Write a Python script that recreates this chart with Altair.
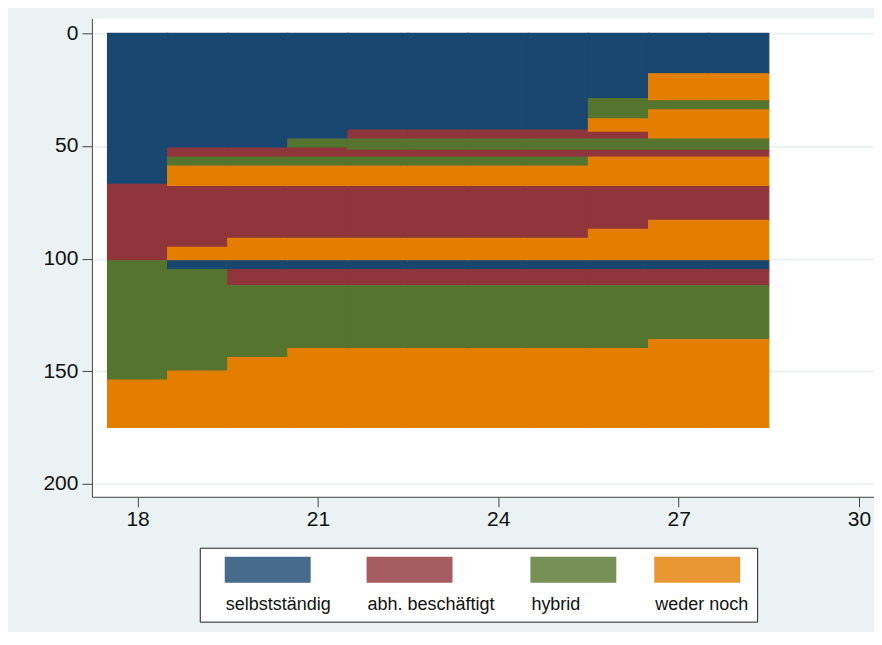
import altair as alt
import pandas as pd

# ---- data -------------------------------------------------------------
ages = [18, 19, 20, 21, 22, 23, 24, 25, 26, 27, 28]
state_codes = ["S", "A", "H", "W"]
state_labels = ["selbstständig", "abh. beschäftigt", "hybrid", "weder noch"]
state_colors = ["#1a476f", "#90353b", "#55752f", "#e37e00"]

# state runs per age, read top (sequence 0) to bottom
col_states = {
    18: "SAHW",
    19: "SAHWAWSHW",
    20: "SAHWAWSAHW",
    21: "SHAHWAWSAHW",
    22: "SAHAHWAWSAHW",
    23: "SAHAHWAWSAHW",
    24: "SAHAHWAWSAHW",
    25: "SAHAHWAWSAHW",
    26: "SHWAHAWAWSAHW",
    27: "SWHWHAWAWSAHW",
    28: "SWHWHAWAWSAHW",
}
# sequence index where each run starts / ends
col_bounds = {
    18: [0, 67, 101, 154, 175],
    19: [0, 51, 55, 59, 68, 95, 101, 105, 150, 175],
    20: [0, 51, 55, 59, 68, 91, 101, 105, 112, 144, 175],
    21: [0, 47, 51, 55, 59, 68, 91, 101, 105, 112, 140, 175],
    22: [0, 43, 47, 52, 55, 59, 68, 91, 101, 105, 112, 140, 175],
    23: [0, 43, 47, 52, 55, 59, 68, 91, 101, 105, 112, 140, 175],
    24: [0, 43, 47, 52, 55, 59, 68, 91, 101, 105, 112, 140, 175],
    25: [0, 43, 47, 52, 55, 59, 68, 91, 101, 105, 112, 140, 175],
    26: [0, 29, 38, 44, 47, 52, 55, 68, 87, 101, 105, 112, 140, 175],
    27: [0, 18, 30, 34, 47, 52, 55, 68, 83, 101, 105, 112, 136, 175],
    28: [0, 18, 30, 34, 47, 52, 55, 68, 83, 101, 105, 112, 136, 175],
}
x_ticks = [18, 21, 24, 27, 30]
y_ticks = [0, 50, 100, 150, 200]

# ---- table ------------------------------------------------------------
code_to_label = dict(zip(state_codes, state_labels))
rows = []
for a in ages:
    s = col_states[a]
    b = col_bounds[a]
    for i, c in enumerate(s):
        rows.append({"age": a, "state": code_to_label[c], "start": b[i], "end": b[i + 1]})
df = pd.DataFrame(rows)

color_scale = alt.Scale(domain=state_labels, range=state_colors)

# custom wide rectangle symbol drawn above its label (units of 0.5 px)
sym_path = "M18,-94H186V-46H18Z"

legend = alt.Legend(
    title=" ",
    titleFontSize=20,
    titlePadding=20,
    orient="none",
    legendX=108,
    legendY=530,
    direction="horizontal",
    columns=4,
    symbolType=sym_path,
    symbolSize=1,
    symbolStrokeWidth=2,
    symbolOpacity=0.8,
    labelOffset=0,
    columnPadding=18,
    padding=8,
    strokeColor="#222222",
    fillColor="white",
    labelFont="Liberation Sans",
    labelFontSize=18,
    labelColor="#111111",
    labelLimit=300,
)

rects = (
    alt.Chart(df)
    .transform_calculate(x0="datum.age - 0.5", x1="datum.age + 0.5")
    .mark_rect(strokeWidth=1.2)
    .encode(
        x=alt.X(
            "x0:Q",
            scale=alt.Scale(domain=[17.24, 30.25], nice=False, zero=False),
            axis=alt.Axis(values=x_ticks, title=None, grid=False, format="d"),
        ),
        x2="x1:Q",
        y=alt.Y(
            "start:Q",
            scale=alt.Scale(domain=[-6.65, 205.76], reverse=True, nice=False, zero=False),
            axis=alt.Axis(values=y_ticks, title=None, grid=True, format="d"),
        ),
        y2="end:Q",
        color=alt.Color("state:N", scale=color_scale, sort=state_labels, legend=legend),
        stroke=alt.Stroke("state:N", scale=color_scale, sort=state_labels, legend=None),
    )
)

chart = (
    alt.layer(rects)
    .properties(
        width=783,
        height=479,
        background="#EAF2F3",
        padding={"left": 34, "top": 10, "right": 0, "bottom": 9},
    )
    .configure_view(fill="white", stroke=None)
    .configure_axis(
        domainColor="#444444",
        tickColor="#444444",
        labelColor="#111111",
        labelFont="Liberation Sans",
        labelFontSize=21,
        domainWidth=1,
        tickWidth=1,
        tickSize=10,
    )
    .configure_axisY(labelPadding=4, gridColor="#EAF2F3", gridWidth=2)
    .configure_axisX(labelPadding=2)
)

chart.save("out.html", embed_options={"renderer": "svg", "actions": False})
